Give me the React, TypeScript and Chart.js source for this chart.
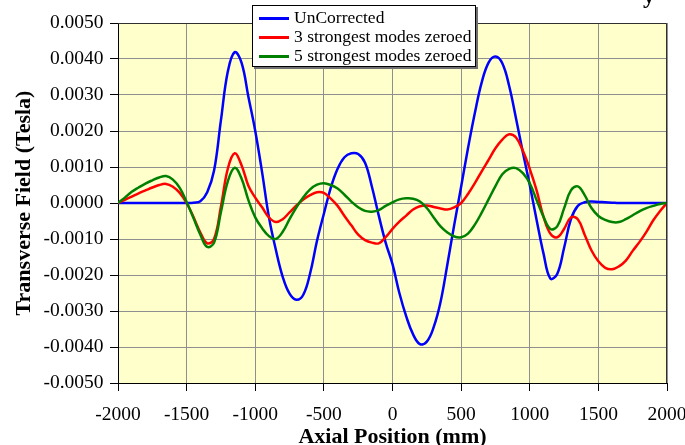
import { useEffect, useRef } from "react";
import { Chart, registerables } from "chart.js";

Chart.register(...registerables);

// Axial positions (mm)
const positions = [
  -2000, -1950, -1900, -1850, -1800, -1750, -1700, -1650, -1600, -1550,
  -1500, -1450, -1400, -1350, -1300, -1250, -1200, -1150, -1100, -1050,
  -1000, -950, -900, -850, -800, -750, -700, -650, -600, -550,
  -500, -450, -400, -350, -300, -250, -200, -150, -100, -50,
  0, 50, 100, 150, 200, 250, 300, 350, 400, 450,
  500, 550, 600, 650, 700, 750, 800, 850, 900, 950,
  1000, 1050, 1100, 1150, 1200, 1250, 1300, 1350, 1400, 1450,
  1500, 1550, 1600, 1650, 1700, 1750, 1800, 1850, 1900, 1950,
  2000,
];

// Transverse field values in milliTesla (converted to Tesla when plotted)
const uncorrectedMilliTesla = [
  0, 0, 0, 0, 0, 0, 0, 0, 0, 0,
  0, 0.01, 0.05, 0.3, 0.9, 2.3, 3.65, 4.19, 3.9, 2.95,
  2.0, 0.85, -0.4, -1.3, -2.05, -2.52, -2.69, -2.55, -1.95, -1.05,
  -0.3, 0.42, 0.95, 1.27, 1.38, 1.36, 1.12, 0.45, -0.35, -1.1,
  -1.7, -2.5, -3.15, -3.65, -3.92, -3.85, -3.45, -2.75, -1.7, -0.6,
  0.45, 1.52, 2.5, 3.35, 3.9, 4.07, 3.88, 3.25, 2.35, 1.4,
  0.5, -0.47, -1.4, -2.1, -1.97, -1.25, -0.45, -0.08, 0.02, 0.04,
  0.03, 0.02, 0.01, 0, 0, 0, 0, 0, 0, 0,
  0,
];

const threeModesZeroedMilliTesla = [
  0, 0.09, 0.18, 0.27, 0.35, 0.43, 0.5, 0.53, 0.45, 0.28,
  0.0, -0.39, -0.82, -1.12, -1.0, -0.1, 0.95, 1.38, 1.05, 0.48,
  0.15, -0.12, -0.4, -0.53, -0.45, -0.26, -0.07, 0.1, 0.22, 0.3,
  0.28, 0.12, -0.08, -0.36, -0.62, -0.88, -1.03, -1.1, -1.12, -0.95,
  -0.72, -0.52, -0.35, -0.18, -0.09, -0.07, -0.11, -0.15, -0.18, -0.12,
  0.0, 0.25, 0.55, 0.88, 1.2, 1.52, 1.76, 1.91, 1.82, 1.45,
  0.95, 0.35, -0.38, -0.85, -0.95, -0.72, -0.4, -0.45, -0.88, -1.32,
  -1.62, -1.8, -1.84, -1.76, -1.6, -1.33, -1.08, -0.8, -0.48, -0.22,
  0,
];

const fiveModesZeroedMilliTesla = [
  0, 0.15, 0.31, 0.43, 0.54, 0.63, 0.71, 0.75, 0.65, 0.42,
  0.03, -0.42, -0.88, -1.22, -1.1, -0.25, 0.6, 0.98, 0.68, 0.08,
  -0.4, -0.7, -0.92, -1.0, -0.8, -0.45, -0.12, 0.16, 0.38, 0.51,
  0.55, 0.5, 0.4, 0.23, 0.04, -0.12, -0.22, -0.24, -0.2, -0.08,
  0.02, 0.1, 0.13, 0.12, 0.04, -0.14, -0.4, -0.65, -0.82, -0.93,
  -0.95, -0.85, -0.6, -0.27, 0.1, 0.47, 0.8, 0.95, 0.97, 0.83,
  0.55, 0.08, -0.38, -0.72, -0.65, -0.15, 0.35, 0.46, 0.22, -0.14,
  -0.36, -0.47, -0.53, -0.53, -0.45, -0.34, -0.23, -0.14, -0.08, -0.03,
  0,
];

const seriesLabels = ["UnCorrected", "3 strongest modes zeroed", "5 strongest modes zeroed"];
const seriesColors = ["#0000FF", "#FF0000", "#008000"];
const seriesValues = [uncorrectedMilliTesla, threeModesZeroedMilliTesla, fiveModesZeroedMilliTesla];

const xTitle = "Axial Position (mm)";
const yTitle = "Transverse Field (Tesla)";
const titleFragment = "y";

const FONT = '"Liberation Serif", "Times New Roman", serif';

const decorPlugin = {
  id: "decor",
  beforeDraw(chart: any) {
    const { ctx, chartArea: a, width, height } = chart;
    ctx.save();
    ctx.fillStyle = "#FFFFFF";
    ctx.fillRect(0, 0, width, height);
    ctx.fillStyle = "#FFFFCC";
    ctx.fillRect(a.left, a.top, a.right - a.left, a.bottom - a.top);
    ctx.restore();
  },
  afterDraw(chart: any) {
    const { ctx, chartArea: a } = chart;
    ctx.save();
    // plot frame
    ctx.strokeStyle = "#303030";
    ctx.lineWidth = 1;
    ctx.beginPath();
    ctx.moveTo(a.left, a.top + 0.5);
    ctx.lineTo(a.right - 0.5, a.top + 0.5);
    ctx.lineTo(a.right - 0.5, a.bottom);
    ctx.stroke();

    // legend box
    const x0 = 252, y0 = 5, w = 224, h = 62;
    ctx.fillStyle = "#707070";
    ctx.fillRect(x0 + 2, y0 + 2, w, h);
    ctx.fillStyle = "#FFFFFF";
    ctx.fillRect(x0, y0, w, h);
    ctx.strokeStyle = "#000000";
    ctx.strokeRect(x0 + 0.5, y0 + 0.5, w - 1, h - 1);
    ctx.font = `17.5px ${FONT}`;
    ctx.textBaseline = "middle";
    ctx.textAlign = "left";
    chart.data.datasets.forEach((ds: any, i: number) => {
      const yy = y0 + 13.5 + i * 19;
      ctx.strokeStyle = ds.borderColor;
      ctx.lineWidth = 3;
      ctx.beginPath();
      ctx.moveTo(x0 + 7, yy);
      ctx.lineTo(x0 + 37, yy);
      ctx.stroke();
      ctx.fillStyle = "#000000";
      ctx.fillText(ds.label, x0 + 42, yy);
    });

    // cut-off chart title fragment
    ctx.font = `bold 24px ${FONT}`;
    ctx.textBaseline = "alphabetic";
    ctx.fillStyle = "#000000";
    ctx.fillText(titleFragment, 643, 3);
    ctx.restore();
  },
};

export default function App() {
  const ref = useRef<HTMLCanvasElement | null>(null);

  useEffect(() => {
    if (!ref.current) return;
    Chart.defaults.font.family = FONT;
    const datasets = seriesValues.map((vals, i) => ({
      label: seriesLabels[i],
      data: positions.map((x, j) => ({ x, y: vals[j] / 1000 })),
      borderColor: seriesColors[i],
      backgroundColor: seriesColors[i],
      borderWidth: 2.5,
      pointRadius: 0,
      fill: false,
      tension: 0.4,
      order: 3 - i,
    }));

    const gridCommon = {
      color: "#8f8f8f",
      lineWidth: 1,
      tickLength: 8,
      tickColor: "#000000",
    };

    const chart = new Chart(ref.current, {
      type: "line",
      data: { datasets },
      options: {
        responsive: false,
        animation: false,
        layout: { padding: { top: 23, right: 18, left: 0, bottom: 0 } },
        plugins: {
          legend: { display: false },
          tooltip: { enabled: false },
          title: { display: false },
        },
        scales: {
          x: {
            type: "linear",
            min: -2000,
            max: 2000,
            ticks: {
              stepSize: 500,
              autoSkip: false,
              maxRotation: 0,
              color: "#000000",
              font: { size: 19.5 },
              padding: 12.5,
              callback: (v: any) => String(v),
            },
            grid: gridCommon,
            border: { display: true, color: "#000000", width: 1 },
            title: {
              display: true,
              text: xTitle,
              color: "#000000",
              font: { size: 22, weight: "bold", lineHeight: 0.7 },
              padding: { top: 0, bottom: 0 },
            },
            afterFit: (s: any) => {
              s.height = 62;
              s.paddingLeft = 0;
              s.paddingRight = 0;
            },
          },
          y: {
            type: "linear",
            min: -0.005,
            max: 0.005,
            ticks: {
              stepSize: 0.001,
              color: "#000000",
              font: { size: 19.5 },
              padding: 6.5,
              callback: (v: any) => Number(v).toFixed(4),
            },
            grid: gridCommon,
            border: { display: true, color: "#000000", width: 1 },
            title: {
              display: true,
              text: yTitle,
              color: "#000000",
              font: { size: 22, weight: "bold" },
              padding: { top: 11, bottom: 0 },
            },
            afterFit: (s: any) => {
              s.width = 118;
            },
          },
        },
      },
      plugins: [decorPlugin],
    });
    return () => chart.destroy();
  }, []);

  return (
    <div style={{ position: "fixed", left: 0, top: 0, width: 685, height: 445 }}>
      <canvas ref={ref} width={685} height={445} />
    </div>
  );
}
